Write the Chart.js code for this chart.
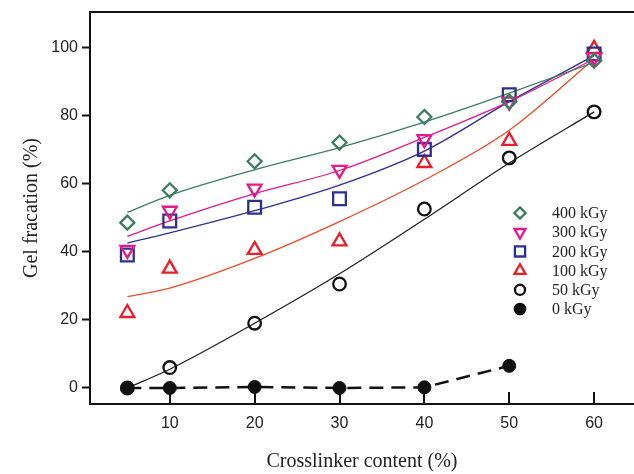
<!DOCTYPE html>
<html>
<head>
<meta charset="utf-8">
<script src="https://cdn.jsdelivr.net/npm/chart.js@4"></script>
<style>
  html, body { margin: 0; padding: 0; background: #fff; overflow: hidden; }
  #wrap { width: 634px; height: 474px; }
</style>
</head>
<body>
<div id="wrap"><canvas id="gelChart" width="634" height="474"></canvas></div>
<script>
// crosslinker content (%) on x
var crosslinker = [5, 10, 20, 30, 40, 50, 60];
var xTicks = [10, 20, 30, 40, 50, 60];
var yTicks = [0, 20, 40, 60, 80, 100];

// measured gel fraction (%) per dose
var gel400 = [48.5, 58, 66.5, 72, 79.5, 84, 96];
var gel300 = [40.5, 52, 58.5, 64, 73, 84, 97];
var gel200 = [39, 49, 53, 55.5, 70, 86, 98];
var gel100 = [22, 35, 40.5, 43, 66, 72.5, 99.5];
var gel50 = [0, 6, 19, 30.5, 52.5, 67.5, 81];
var gel0 = [0, 0, 0.3, 0, 0.2, 6.5];

// fitted curves
var fit400 = [51.5, 56.5, 64, 70.5, 78, 86.5, 95.5];
var fit300 = [44.5, 49, 57, 63.8, 73.5, 84, 96.5];
var fit200 = [42.5, 45.5, 52, 59.5, 69.5, 84, 97.5];
var fit100 = [26.8, 29.3, 38, 48.8, 61, 75.6, 96.5];
var fit50 = [0, 5.5, 19, 33.5, 49.5, 66, 81];

var doseLabels = ['400 kGy', '300 kGy', '200 kGy', '100 kGy', '50 kGy', '0 kGy'];

function pts(xs, ys) {
    return ys.map((y, i) => ({ x: xs[i], y: y }));
}

var green = '#3b7d5c';
var magenta = '#e5198b';
var blue = '#2d3091';
var red = '#ea1f27';
var redLine = '#ef4a25';

// marker style per dose (same order as doseLabels)
var markers = [
    { style: 'rectRot', rotation: 0, radius: 7, color: green, fill: 'transparent' },
    { style: 'triangle', rotation: 180, radius: 8, color: magenta, fill: 'transparent' },
    { style: 'rect', rotation: 0, radius: 9, color: blue, fill: 'transparent' },
    { style: 'triangle', rotation: 0, radius: 8, color: red, fill: 'transparent' },
    { style: 'circle', rotation: 0, radius: 6.3, color: '#111', fill: 'transparent' },
    { style: 'circle', rotation: 0, radius: 6.5, color: '#111', fill: '#111' }
];

function fitLine(data, color) {
    return {
        data: pts(crosslinker, data),
        borderColor: color,
        borderWidth: 1.3,
        pointRadius: 0,
        showLine: true,
        fill: false,
        cubicInterpolationMode: 'monotone',
        order: 5
    };
}

function markerSet(data, m) {
    return {
        data: pts(crosslinker, data),
        showLine: false,
        pointStyle: m.style,
        rotation: m.rotation,
        pointRadius: m.radius,
        pointBorderColor: m.color,
        pointBackgroundColor: m.fill,
        pointBorderWidth: 2.3,
        order: 1
    };
}

// frame top line, inward x ticks and the inset legend
var framePlugin = {
    id: 'framePlugin',
    beforeDatasetsDraw(chart) {
        var ctx = chart.ctx;
        var area = chart.chartArea;
        var xs = chart.scales.x;
        ctx.save();
        ctx.strokeStyle = '#111';
        ctx.lineWidth = 2;
        ctx.beginPath();
        ctx.moveTo(area.left - 1, area.top);
        ctx.lineTo(area.right, area.top);
        xTicks.forEach(v => {
            var px = Math.round(xs.getPixelForValue(v));
            ctx.moveTo(px, area.bottom);
            ctx.lineTo(px, area.bottom - 12);
        });
        ctx.stroke();
        ctx.restore();
    },
    afterDatasetsDraw(chart) {
        var ctx = chart.ctx;
        ctx.save();
        ctx.font = '16px "Liberation Serif", serif';
        ctx.textBaseline = 'middle';
        doseLabels.forEach((lab, i) => {
            var y = 213 + i * 19.2;
            var m = markers[i];
            ctx.strokeStyle = m.color;
            ctx.fillStyle = m.fill;
            ctx.lineWidth = 2.3;
            Chart.helpers.drawPoint(ctx, {
                pointStyle: m.style,
                rotation: m.rotation,
                radius: m.radius * 0.8,
                borderWidth: 2.3
            }, 520, y);
            ctx.fillStyle = '#222';
            ctx.fillText(lab, 552, y + 1);
        });
        ctx.restore();
    }
};

var ctx = document.getElementById('gelChart').getContext('2d');
new Chart(ctx, {
    type: 'scatter',
    data: {
        datasets: [
            fitLine(fit400, green),
            fitLine(fit300, magenta),
            fitLine(fit200, blue),
            fitLine(fit100, redLine),
            fitLine(fit50, '#222'),
            markerSet(gel400, markers[0]),
            markerSet(gel300, markers[1]),
            markerSet(gel200, markers[2]),
            markerSet(gel100, markers[3]),
            markerSet(gel50, markers[4]),
            {
                data: pts(crosslinker, gel0),
                showLine: true,
                borderColor: '#111',
                borderWidth: 2.5,
                borderDash: [14, 8],
                pointStyle: 'circle',
                pointRadius: 6.5,
                pointBorderColor: '#111',
                pointBackgroundColor: '#111',
                pointBorderWidth: 1,
                order: 1
            }
        ]
    },
    options: {
        responsive: false,
        animation: false,
        layout: { autoPadding: false, padding: { top: 12, right: 0, left: 0, bottom: 0 } },
        scales: {
            x: {
                type: 'linear',
                min: 0.6,
                max: 64.7,
                afterBuildTicks: scale => { scale.ticks = xTicks.map(v => ({ value: v })); },
                afterFit: scale => {
                    scale.height = 70;
                    scale.paddingLeft = 0;
                    scale.paddingRight = 0;
                },
                grid: { display: false, drawTicks: false },
                border: { display: true, color: '#111', width: 2 },
                ticks: {
                    padding: 10,
                    color: '#222',
                    font: { family: '"Liberation Sans", Arial, sans-serif', size: 16 }
                },
                title: {
                    display: true,
                    text: 'Crosslinker content (%)',
                    color: '#222',
                    padding: { top: 0, bottom: 0 },
                    font: { family: '"Liberation Serif", serif', size: 20 }
                }
            },
            y: {
                type: 'linear',
                min: -4.7,
                max: 110.3,
                afterBuildTicks: scale => { scale.ticks = yTicks.map(v => ({ value: v })); },
                afterFit: scale => {
                    scale.width = 90;
                    scale.paddingTop = 0;
                    scale.paddingBottom = 0;
                },
                grid: {
                    display: true,
                    drawOnChartArea: false,
                    drawTicks: true,
                    tickLength: 8,
                    tickColor: '#111',
                    tickWidth: 2
                },
                border: { display: true, color: '#111', width: 2 },
                ticks: {
                    padding: 4,
                    color: '#222',
                    font: { family: '"Liberation Sans", Arial, sans-serif', size: 16 }
                },
                title: {
                    display: true,
                    text: 'Gel fracation (%)',
                    color: '#222',
                    padding: { top: 20, bottom: 0 },
                    font: { family: '"Liberation Serif", serif', size: 20 }
                }
            }
        },
        plugins: {
            legend: { display: false },
            tooltip: { enabled: false }
        }
    },
    plugins: [framePlugin]
});
</script>
</body>
</html>
